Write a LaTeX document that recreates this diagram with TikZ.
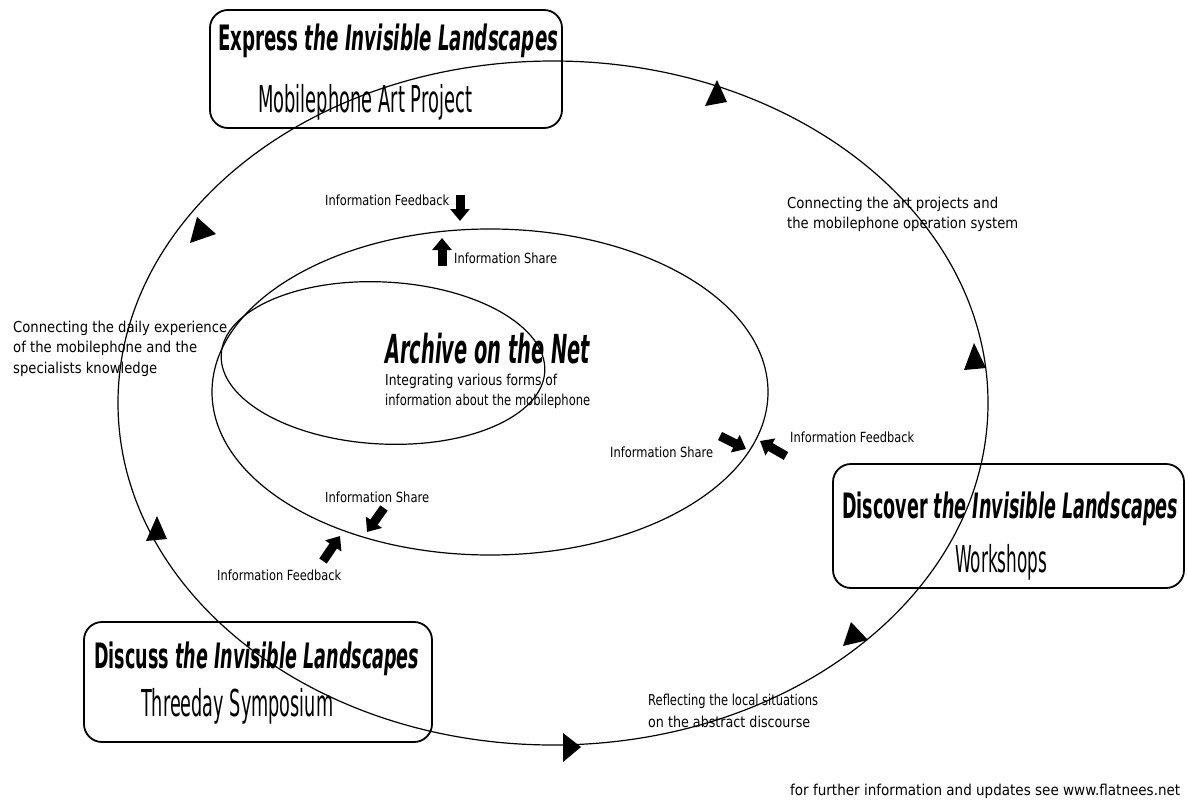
\documentclass[tikz,border=0pt]{standalone}
\usepackage{fontspec}
\setmainfont{DejaVu Sans}
\usetikzlibrary{arrows.meta}
\newcommand\fitx[2]{\resizebox{#1pt}{\height}{#2}}
\newcommand\ttl[1]{\fontsize{35}{40}\selectfont\bfseries #1}
\newcommand\sub[1]{\fontsize{37}{42}\selectfont #1}
\newcommand\bdy[1]{\fontsize{15}{18}\selectfont #1}
\newcommand\sml[1]{\fontsize{14}{17}\selectfont #1}
\begin{document}
\begin{tikzpicture}[x=1pt,y=-1pt,
  box/.style={draw, line width=1.8pt, rounded corners=18pt, inner sep=0pt},
  loop/.style={line width=1.2pt},
  tri/.style={fill=black},
  blk/.style={line width=9pt, -{Triangle[length=12pt,width=19pt]}},
  txt/.style={anchor=base west, inner sep=0pt}]
\useasboundingbox (0,0) rectangle (1188,803);
\fill[white] (0,0) rectangle (1188,803);
% boxes
\node[box, minimum width=352pt, minimum height=118pt] (topbox) at (386,69) {};
\node[box, minimum width=351pt, minimum height=124pt] (rightbox) at (1008.5,526) {};
\node[box, minimum width=348pt, minimum height=120pt] (botbox) at (258,682) {};
% ellipses
\draw[loop] (553,403) ellipse [x radius=435, y radius=342];
\draw[loop] (490,392) ellipse [x radius=278, y radius=163];
\draw[loop, rotate around={-3:(383,363)}] (383,363) ellipse [x radius=162, y radius=81];
% loop arrowheads
\fill[tri] (717,80) -- (705,106) -- (727,102) -- cycle;
\fill[tri] (974,343) -- (964,370) -- (986,368) -- cycle;
\fill[tri] (843,646) -- (851,622) -- (868,640) -- cycle;
\fill[tri] (563,733) -- (563,762) -- (581,747) -- cycle;
\fill[tri] (157,516) -- (146,541) -- (167,539) -- cycle;
\fill[tri] (190,243) -- (197,217) -- (216,234) -- cycle;
% box texts
\node[txt] (t1) at (218,50) {\fitx{340}{\ttl{Express \itshape the Invisible Landscapes}}};
\node[txt] (s1) at (258,112) {\fitx{214}{\sub{Mobilephone Art Project}}};
\node[txt] (t2) at (842,518) {\fitx{336}{\ttl{Discover \itshape the Invisible Landscapes}}};
\node[txt] (s2) at (955,572) {\fitx{92}{\sub{Workshops}}};
\node[txt] (t3) at (94,668) {\fitx{325}{\ttl{Discuss \itshape the Invisible Landscapes}}};
\node[txt] (s3) at (141,716) {\fitx{192}{\sub{Threeday Symposium}}};
% archive
\node[txt] (arch) at (385,363) {\fitx{205}{\fontsize{40}{44}\selectfont\bfseries\itshape Archive on the Net}};
\node[txt] (a1) at (385,385) {\fitx{172}{\bdy{Integrating various forms of}}};
\node[txt] (a2) at (385,405) {\fitx{205}{\bdy{information about the mobilephone}}};
% side texts
\node[txt] (l1) at (13,332) {\fitx{214}{\bdy{Connecting the daily experience}}};
\node[txt] (l2) at (13,352) {\fitx{184}{\bdy{of the mobilephone and the}}};
\node[txt] (l3) at (13,373) {\fitx{144}{\bdy{specialists knowledge}}};
\node[txt] (r1) at (787,208) {\fitx{211}{\bdy{Connecting the art projects and}}};
\node[txt] (r2) at (787,228) {\fitx{231}{\bdy{the mobilephone operation system}}};
\node[txt] (b1) at (648,705) {\fitx{170}{\bdy{Reflecting the local situations}}};
\node[txt] (b2) at (648,727) {\fitx{162}{\bdy{on the abstract discourse}}};
\node[txt] (foot) at (790,795) {\fitx{390}{\bdy{for further information and updates see www.flatnees.net}}};
% information arrows labels
\node[txt] (f1) at (325,205) {\fitx{124}{\sml{Information Feedback}}};
\node[txt] (h1) at (454,263) {\fitx{103}{\sml{Information Share}}};
\node[txt] (h2) at (610,457) {\fitx{103}{\sml{Information Share}}};
\node[txt] (f2) at (790,442) {\fitx{124}{\sml{Information Feedback}}};
\node[txt] (h3) at (325,502) {\fitx{104}{\sml{Information Share}}};
\node[txt] (f3) at (217,580) {\fitx{124}{\sml{Information Feedback}}};
% information arrows
\coordinate (fa1) at (460,195); \coordinate (fb1) at (460,221);
\coordinate (ha1) at (442,266); \coordinate (hb1) at (442,238);
\coordinate (ha2) at (720,436); \coordinate (hb2) at (746,449);
\coordinate (fa2) at (786,456); \coordinate (fb2) at (760,441);
\coordinate (ha3) at (384,508); \coordinate (hb3) at (367,532);
\coordinate (fa3) at (323,561); \coordinate (fb3) at (340,536);
\draw[blk] (fa1) -- (fb1);
\draw[blk] (ha1) -- (hb1);
\draw[blk] (ha2) -- (hb2);
\draw[blk] (fa2) -- (fb2);
\draw[blk] (ha3) -- (hb3);
\draw[blk] (fa3) -- (fb3);
\end{tikzpicture}
\end{document}
